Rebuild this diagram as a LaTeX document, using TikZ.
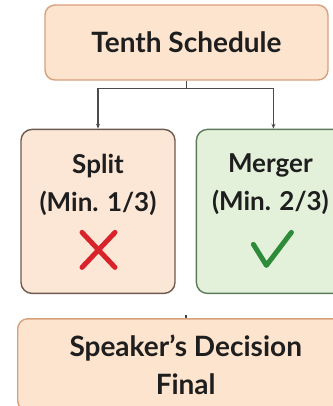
\documentclass[tikz,border=0pt]{standalone}
\usepackage{fontspec}
\setmainfont{Lato}
\usepackage{xcolor}
\usepackage{tikz}
\usetikzlibrary{positioning,calc,arrows.meta}

\definecolor{peachfill}{HTML}{FCE4CF}
\definecolor{peachdraw}{HTML}{D9A07C}
\definecolor{splitfill}{HTML}{FCE6D6}
\definecolor{splitdraw}{HTML}{6E5A50}
\definecolor{mergefill}{HTML}{E3F0DA}
\definecolor{mergedraw}{HTML}{5C7A5C}
\definecolor{crossred}{HTML}{D8232B}
\definecolor{tickgreen}{HTML}{2E8B3A}
\definecolor{inkdark}{HTML}{1E1E1E}

\begin{document}
\begin{tikzpicture}
\tikzset{topbox/.style={rectangle,rounded corners=10pt,draw=peachdraw,fill=peachfill,
		line width=1.4pt,text=inkdark,font=\fontsize{28}{38}\selectfont\bfseries,align=center},
	sidebox/.style={rectangle,rounded corners=11pt,line width=1.4pt,
		minimum width=154pt,minimum height=164pt},
	lbl/.style={text=inkdark,font=\fontsize{26}{38}\selectfont\bfseries,align=center,inner sep=0pt},
	conn/.style={draw=black!70,line width=1.1pt,-{Stealth[length=5pt,width=4pt]}}}

\useasboundingbox (0,0) rectangle (332pt,-406pt);

\node[topbox,minimum width=283pt,minimum height=75pt] (sched) at (186.5pt,-42.5pt) {Tenth Schedule};

\node[sidebox,draw=splitdraw,fill=splitfill] (split) [below=48pt of sched, xshift=-88.5pt] {};
\node[sidebox,draw=mergedraw,fill=mergefill] (merger) [right=20pt of split] {};

\node[lbl] (splitlbl) [below=25pt of split.north] {Split\\(Min. 1/3)};
\node[lbl] (mergerlbl) [below=25pt of merger.north, xshift=-3pt] {Merger\\(Min. 2/3)};

\coordinate (mid) at ($(split.south)!0.5!(merger.south)$);
\node[topbox,minimum width=336pt,minimum height=92pt] (dec) [below=24pt of mid] {Speaker's Decision\\Final};

% fork from the schedule
\draw[conn] (sched.south) -- ++(0,-8pt) -| (split.north);
\draw[conn] (sched.south) -- ++(0,-8pt) -| (merger.north);

\coordinate (stub) at ($(dec.north)+(0,3pt)$);
\draw[black!75,line width=2pt] (stub) -- (dec.north);

% marks
\draw[crossred,line width=5pt,line cap=round] ($(split.center)+(-16pt,-21pt)$) -- ($(split.center)+(17pt,-56pt)$);
\draw[crossred,line width=5pt,line cap=round] ($(split.center)+(-16pt,-56pt)$) -- ($(split.center)+(17pt,-21pt)$);
\draw[tickgreen,line width=5pt,line cap=round,line join=round] ($(merger.center)+(-20pt,-33pt)$) -- ($(merger.center)+(-7pt,-54pt)$) -- ($(merger.center)+(18pt,-21pt)$);
\end{tikzpicture}
\end{document}
